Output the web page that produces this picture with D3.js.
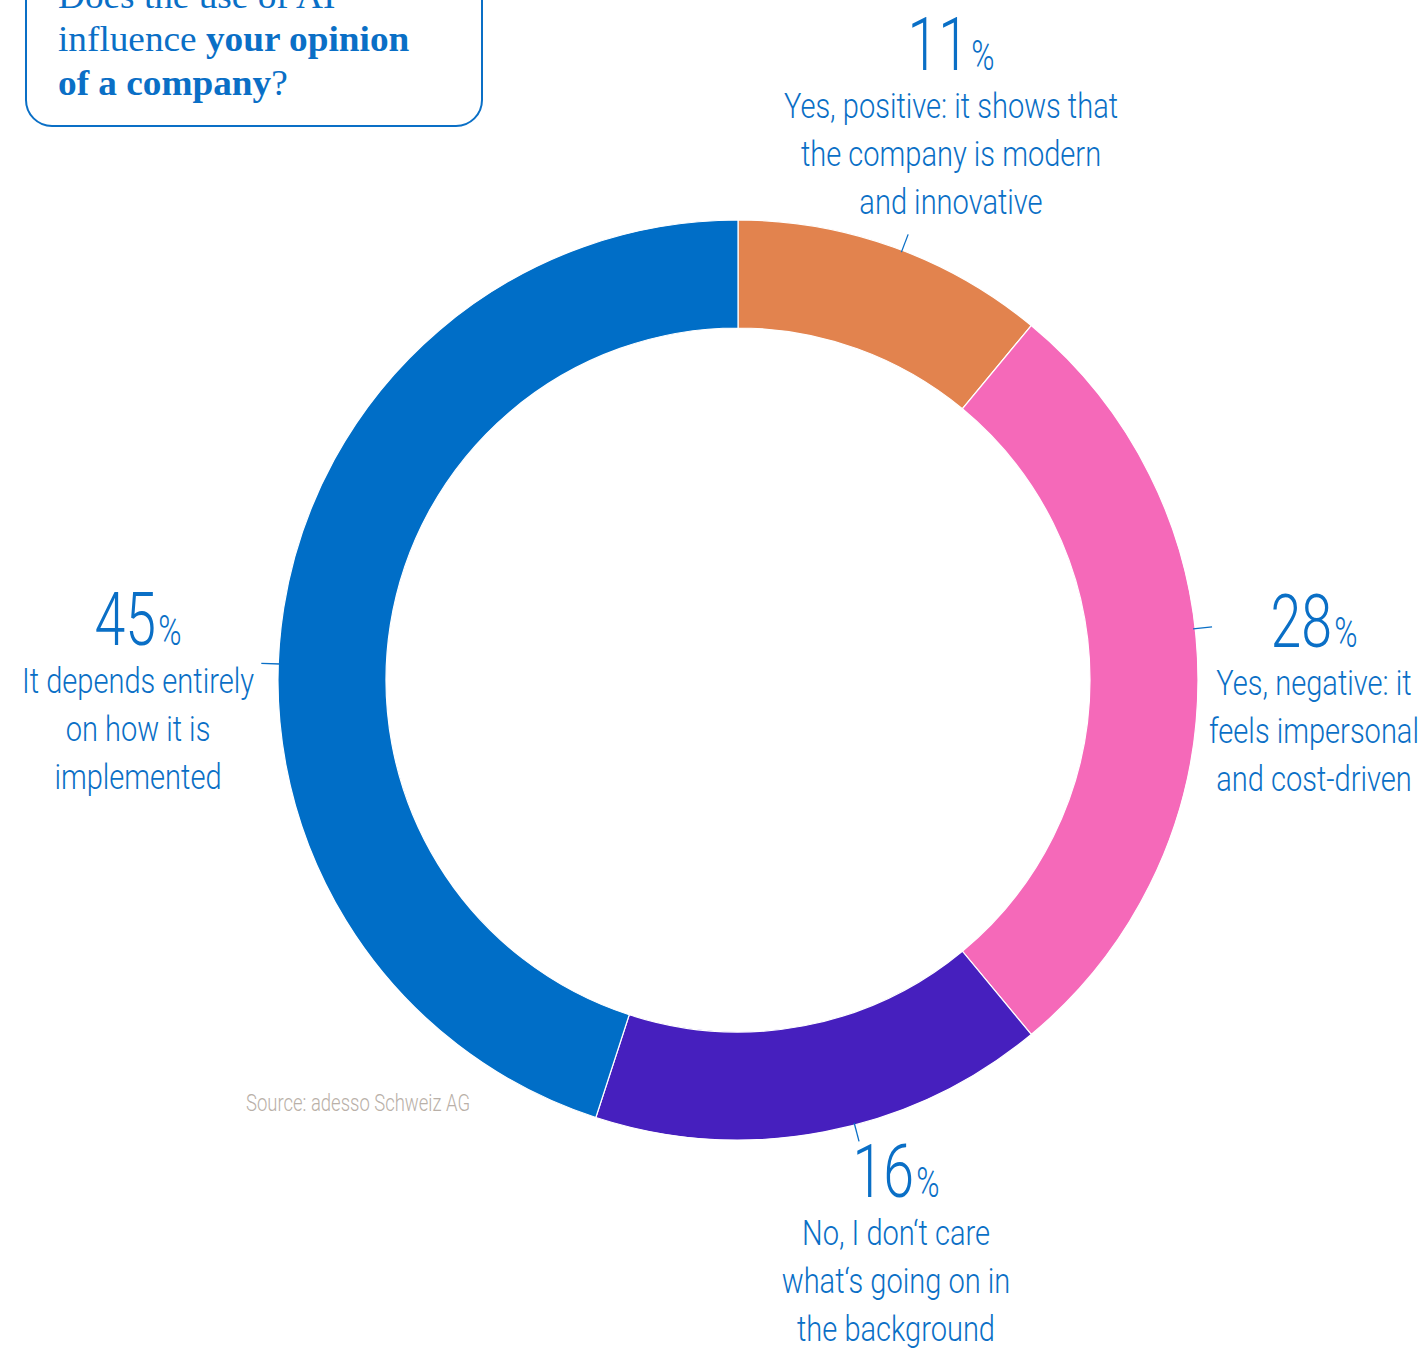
<!DOCTYPE html>
<html>
<head>
<meta charset="utf-8">
<script src="https://cdn.jsdelivr.net/npm/d3@7"></script>
<style>
  html, body { margin: 0; padding: 0; background: #ffffff; }
  svg { display: block; }
</style>
</head>
<body>
<svg id="chart" width="1424" height="1349"></svg>
<script>
// Survey answers: "Does the use of AI influence your opinion of a company?"
const categories = [
  "Yes, positive: it shows that the company is modern and innovative",
  "Yes, negative: it feels impersonal and cost-driven",
  "No, I don\u2018t care what\u2018s going on in the background",
  "It depends entirely on how it is implemented"
];
const values = [11, 28, 16, 45];
const labelLines = [
  ["Yes, positive: it shows that", "the company is modern", "and innovative"],
  ["Yes, negative: it", "feels impersonal", "and cost-driven"],
  ["No, I don\u2018t care", "what\u2018s going on in", "the background"],
  ["It depends entirely", "on how it is", "implemented"]
];
const sliceColors = ["#E2834E", "#F569B9", "#461FBE", "#006EC7"];
const titleLines = [
  [{ t: "Does the use of AI", b: false }],
  [{ t: "influence ", b: false }, { t: "your opinion", b: true }],
  [{ t: "of a company", b: true }, { t: "?", b: false }]
];
const sourceText = "Source: adesso Schweiz AG";

// Label layout: anchor of the percentage line and the leader-tick angle (degrees, clockwise from top)
const labelLayout = [
  { x: 951, y: 70, tick: 20.9 },
  { x: 1314, y: 647, tick: 83.6 },
  { x: 896, y: 1197, tick: 165.3 },
  { x: 138, y: 645, tick: 272 }
];

const W = 1424, H = 1349;
const cx = 738, cy = 680;
const rOuter = 460, rInner = 352;
const blue = "#0A6FC6";
const condensedFont = "Roboto, 'Liberation Sans', sans-serif";
const squeezeText = 0.83;
const squeezeNum = 0.75;

const svg = d3.select("#chart");

// Title box (top edge runs off the page)
svg.append("rect")
  .attr("x", 26).attr("y", -80)
  .attr("width", 456).attr("height", 206)
  .attr("rx", 26).attr("ry", 26)
  .attr("fill", "none")
  .attr("stroke", blue)
  .attr("stroke-width", 2);

const title = svg.append("text")
  .attr("transform", "translate(58,0) scale(1.065,1)")
  .attr("font-family", "'Liberation Serif', 'DejaVu Serif', serif")
  .attr("font-size", 35)
  .attr("fill", blue);
titleLines.forEach((parts, i) => {
  parts.forEach((p, j) => {
    const ts = title.append("tspan")
      .attr("font-weight", p.b ? 700 : 400)
      .text(p.t);
    if (j === 0) ts.attr("x", 0).attr("y", 8 + i * 43.5);
  });
});

// Donut
const pie = d3.pie().sort(null).value(d => d)
  .startAngle(0).endAngle(2 * Math.PI);
const arcs = pie(values);
const arc = d3.arc().innerRadius(rInner).outerRadius(rOuter);

const g = svg.append("g").attr("transform", `translate(${cx},${cy})`);
g.selectAll("path.slice")
  .data(arcs)
  .join("path")
  .attr("class", "slice")
  .attr("d", arc)
  .attr("fill", (d, i) => sliceColors[i])
  .attr("stroke", "#ffffff")
  .attr("stroke-width", 1.2);

// Leader ticks, radial, just outside the ring
const rad = a => a * Math.PI / 180;
g.selectAll("line.tick")
  .data(labelLayout)
  .join("line")
  .attr("class", "tick")
  .attr("x1", d => Math.sin(rad(d.tick)) * (rOuter - 2))
  .attr("y1", d => -Math.cos(rad(d.tick)) * (rOuter - 2))
  .attr("x2", d => Math.sin(rad(d.tick)) * (rOuter + 17))
  .attr("y2", d => -Math.cos(rad(d.tick)) * (rOuter + 17))
  .attr("stroke", blue)
  .attr("stroke-width", 1.3);

// Labels: big percentage, then the answer text
values.forEach((v, i) => {
  const L = labelLayout[i];
  const num = svg.append("text")
    .attr("transform", `translate(${L.x},${L.y}) scale(${squeezeNum},1)`)
    .attr("font-family", condensedFont)
    .attr("font-weight", 300)
    .attr("fill", blue)
    .attr("text-anchor", "middle");
  num.append("tspan").attr("font-size", 74).text(v);
  num.append("tspan").attr("font-size", 42).attr("dx", 3).text("%");

  const lg = svg.append("g")
    .attr("transform", `translate(${L.x},${L.y}) scale(${squeezeText},1)`)
    .attr("font-family", condensedFont)
    .attr("font-weight", 300)
    .attr("fill", blue)
    .attr("text-anchor", "middle");
  labelLines[i].forEach((t, k) => {
    lg.append("text")
      .attr("x", 0)
      .attr("y", 48 + k * 48)
      .attr("font-size", 35)
      .text(t);
  });
});

// Source note
svg.append("text")
  .attr("transform", "translate(246,1111) scale(0.77,1)")
  .attr("font-family", condensedFont)
  .attr("font-weight", 300)
  .attr("font-size", 24)
  .attr("fill", "#B9B0A8")
  .text(sourceText);
</script>
</body>
</html>
